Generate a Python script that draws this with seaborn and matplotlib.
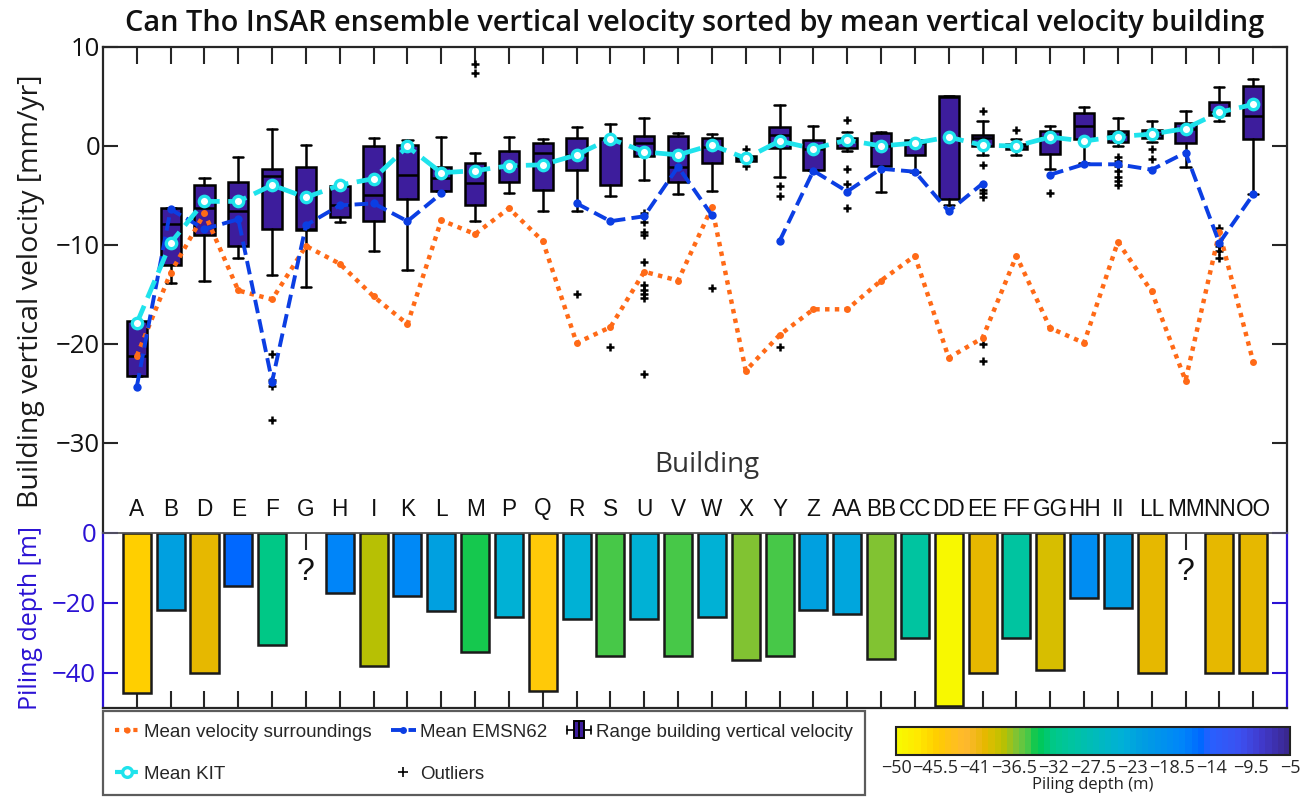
import numpy as np
import pandas as pd
import matplotlib
matplotlib.use("Agg")
import matplotlib.pyplot as plt
import seaborn as sns
from matplotlib.colors import LinearSegmentedColormap, Normalize
from matplotlib.cm import ScalarMappable
from matplotlib.lines import Line2D
from matplotlib.patches import Rectangle
from matplotlib.legend_handler import HandlerBase
from matplotlib.ticker import FuncFormatter

# ---------------- data ----------------
buildings = ["A", "B", "D", "E", "F", "G", "H", "I", "K", "L", "M", "P", "Q", "R",
             "S", "U", "V", "W", "X", "Y", "Z", "AA", "BB", "CC", "DD", "EE", "FF",
             "GG", "HH", "II", "LL", "MM", "NN", "OO"]

# box statistics of building vertical velocity [mm/yr]
whisker_low = [-23.2, -13.8, -13.6, -11.3, -13.0, -14.2, -7.7, -10.6, -12.5, -4.5,
               -7.6, -4.7, -6.6, -6.6, -5.1, -3.4, -4.9, -4.55, -1.5, -3.1,
               -2.45, -0.5, -4.6, -2.6, -6.0, -0.9, -0.95, -2.3, -1.7, 0.0,
               0.4, -2.1, 2.5, -4.9]
quart_1 = [-23.2, -12.0, -9.0, -10.1, -8.4, -8.5, -7.2, -7.6, -5.4, -4.5,
           -6.0, -3.6, -4.45, -2.43, -3.95, -1.0, -3.6, -1.75, -1.5, -0.23,
           -2.45, -0.23, -2.0, -0.95, -5.4, 0.0, -0.34, -0.78, 0.68, 0.4,
           0.85, 0.27, 3.17, 0.75]
medians = [-21.2, -7.9, -6.3, -6.6, -3.05, -8.4, -6.0, -5.0, -2.9, -3.2,
           -3.7, -2.0, -0.74, -0.9, 0.75, 0.34, -2.1, -0.07, -1.25, 1.1,
           -0.3, 0.5, 0.0, 0.3, 4.9, 0.78, 0.0, 0.95, 2.06, 1.2,
           1.2, 1.7, 3.4, 3.04]
quart_3 = [-17.7, -6.3, -3.95, -3.6, -2.3, -2.1, -4.05, 0.0, 0.1, -2.1,
           -1.7, -0.54, 0.27, 0.78, 0.78, 1.01, 1.0, 0.85, -0.98, 1.96,
           0.6, 0.78, 1.35, 0.6, 5.0, 1.1, 0.24, 1.5, 3.3, 1.5,
           1.6, 2.37, 4.45, 6.07]
whisker_high = [-17.7, -6.3, -3.2, -1.1, 1.7, 0.07, -4.05, 0.8, 0.6, 0.95,
                -0.7, 0.95, 0.68, 1.96, 2.27, 2.8, 1.3, 1.25, -0.98, 4.1,
                2.0, 1.45, 1.45, 0.6, 5.05, 2.5, 0.68, 2.0, 3.9, 2.8,
                2.5, 3.5, 6.0, 6.75]
outliers = {
    "F": [-21.0, -23.6, -24.2, -27.7],
    "M": [8.3, 7.4],
    "R": [-15.0],
    "S": [-20.3],
    "U": [-6.8, -7.7, -8.7, -9.0, -11.7, -14.0, -14.5, -15.0, -15.4, -23.0],
    "W": [-14.3],
    "X": [-0.35, -2.0],
    "Y": [-4.05, -5.1, -20.3],
    "AA": [2.6, -2.3, -3.8, -6.3],
    "EE": [3.5, -1.95, -4.4, -4.8, -5.2, -20.0, -21.7],
    "FF": [1.6],
    "GG": [-4.8],
    "II": [-1.1, -1.5, -2.0, -2.5, -3.1, -3.5, -3.9],
    "LL": [-0.35, -1.35],
    "NN": [-8.3, -10.1, -10.6, -11.3],
}

mean_surroundings = [-21.2, -12.8, -6.8, -14.6, -15.5, -10.1, -11.9, -15.2, -18.0, -7.5,
                     -8.9, -6.3, -9.6, -19.9, -18.3, -12.7, -13.6, -6.2, -22.7, -19.1,
                     -16.5, -16.5, -13.6, -11.1, -21.4, -19.4, -11.1, -18.4, -19.9, -9.7,
                     -14.7, -23.7, -8.7, -21.8]
mean_emsn62 = [-24.3, -6.4, -8.4, -7.4, -23.8, -8.0, -6.0, -5.8, -7.6, -4.8,
               np.nan, np.nan, np.nan, -5.8, -7.6, -7.1, -2.1, -7.0, np.nan, -9.6,
               -2.5, -4.6, -2.3, -2.6, -6.6, -3.8, np.nan, -2.9, -1.85, -1.85,
               -2.4, -0.67, -9.8, -4.9]
mean_kit = [-17.9, -9.8, -5.6, -5.6, -3.95, -5.2, -3.95, -3.3, -0.05, -2.7,
            -2.5, -2.0, -1.9, -0.9, 0.74, -0.6, -0.9, 0.1, -1.25, 0.5,
            -0.27, 0.6, 0.0, 0.3, 0.9, 0.07, 0.0, 0.9, 0.5, 0.95,
            1.2, 1.76, 3.4, 4.2]

piling_depth = [-45.7, -21.9, -40.0, -15.0, -32.0, np.nan, -17.0, -38.0, -18.0, -22.4,
                -34.0, -24.0, -45.0, -24.5, -35.0, -24.5, -35.0, -24.0, -36.2, -35.0,
                -22.0, -23.0, -36.0, -30.0, -49.3, -40.0, -30.0, -39.2, -18.6, -21.4,
                -40.0, np.nan, -40.0, -40.0]

depth_ticks = [-50, -45.5, -41, -36.5, -32, -27.5, -23, -18.5, -14, -9.5, -5]

# ---------------- styling ----------------
C_SURR = "#FF6A17"
C_EMSN = "#0B3EE3"
C_KIT = "#1FE3EC"
C_BOX = "#3D1D9C"
C_AXIS = "#262626"
C_PILE = "#2B12D4"

depth_cmap = LinearSegmentedColormap.from_list("piling", [
    (0.000, "#F8F800"), (0.050, "#FFE800"), (0.100, "#FFCC00"), (0.170, "#FFB830"),
    (0.200, "#F0B818"), (0.222, "#E6B800"), (0.245, "#D0C000"), (0.267, "#BCC000"),
    (0.307, "#78C43A"), (0.333, "#48C848"), (0.356, "#00C850"), (0.400, "#00C88A"),
    (0.444, "#00C4A0"), (0.500, "#00BCB8"), (0.578, "#00B0D8"), (0.620, "#00A0E0"),
    (0.733, "#0084FA"), (0.778, "#0068FF"), (0.800, "#2860FF"), (0.880, "#3C50F0"),
    (0.940, "#4038C8"), (1.000, "#3A2890")], N=64)
depth_norm = Normalize(vmin=-50, vmax=-5)

sns.set_theme(style="white")
plt.rcParams["font.family"] = ["Open Sans", "DejaVu Sans"]
plt.rcParams["axes.unicode_minus"] = True

W, H = 1312, 800
fig = plt.figure(figsize=(W / 100, H / 100), dpi=100)


def fbox(x0, y0, x1, y1):
    return [x0 / W, 1 - y1 / H, (x1 - x0) / W, (y1 - y0) / H]


ax_top = fig.add_axes(fbox(103, 47, 1287, 533))
ax_bot = fig.add_axes(fbox(103, 533, 1287, 708))
cax = fig.add_axes(fbox(896, 727, 1290, 755))

n = len(buildings)
pos = np.arange(n)

# ---------------- velocity boxes ----------------
stats = []
for i, b in enumerate(buildings):
    stats.append(dict(whislo=whisker_low[i], q1=quart_1[i], med=medians[i],
                      q3=quart_3[i], whishi=whisker_high[i],
                      fliers=outliers.get(b, [])))
ax_top.bxp(stats, positions=pos, widths=0.6, capwidths=0.3, patch_artist=True,
           boxprops=dict(facecolor=C_BOX, edgecolor="black", linewidth=1.8),
           medianprops=dict(color="black", linewidth=1.8),
           whiskerprops=dict(color="black", linewidth=1.8, linestyle="-"),
           capprops=dict(color="black", linewidth=1.8),
           flierprops=dict(marker="+", markersize=6, markeredgewidth=1.8,
                           markeredgecolor="black", linestyle="none"),
           zorder=2)

lines = pd.DataFrame({"pos": pos, "surr": mean_surroundings,
                      "emsn": mean_emsn62, "kit": mean_kit})

sns.lineplot(data=lines, x="pos", y="surr", ax=ax_top, color=C_SURR,
             linestyle=(0, (1, 1.2)), linewidth=3.2, marker="o", markersize=5,
             markeredgewidth=0, zorder=3, legend=False)

emsn = lines.dropna(subset=["emsn"]).copy()
emsn["run"] = lines["emsn"].isna().cumsum()[emsn.index]
sns.lineplot(data=emsn, x="pos", y="emsn", units="run", estimator=None, ax=ax_top,
             color=C_EMSN, linestyle=(0, (3.5, 1.6)), linewidth=2.8, marker="o",
             markersize=6, markeredgewidth=0, zorder=4, legend=False)

sns.lineplot(data=lines, x="pos", y="kit", ax=ax_top, color=C_KIT,
             linestyle=(0, (4, 1.8)), linewidth=3.4, marker="o", markersize=7.5,
             markerfacecolor="white", markeredgecolor=C_KIT, markeredgewidth=2.4,
             zorder=5, legend=False)

ax_top.set_xlim(-1, n)
ax_top.set_ylim(-39.1, 10)
ax_top.set_xticks(pos)
ax_top.set_yticks([-30, -20, -10, 0, 10])
ax_top.set_xlabel("")
ax_top.set_ylabel("")
ax_top.tick_params(axis="x", top=True, bottom=False, labelbottom=False,
                   labeltop=False, direction="in", length=12, width=1.5, color=C_AXIS)
ax_top.tick_params(axis="y", left=True, right=True, direction="in", length=11,
                   width=1.5, color=C_AXIS, labelsize=18.5, pad=2, labelcolor="#111111")
for side in ("left", "right", "top"):
    ax_top.spines[side].set_color(C_AXIS)
    ax_top.spines[side].set_linewidth(1.6)
ax_top.spines["bottom"].set_visible(False)

# ---------------- piling depth bars ----------------
piles = pd.DataFrame({"building": buildings, "depth": piling_depth}).dropna()
palette = {b: depth_cmap(depth_norm(d)) for b, d in zip(piles["building"], piles["depth"])}
sns.barplot(data=piles, x="building", y="depth", hue="building", order=buildings,
            palette=palette, saturation=1, dodge=False, width=0.83, errorbar=None,
            edgecolor="#1a1a1a", linewidth=1.8, legend=False, ax=ax_bot)
for i, d in enumerate(piling_depth):
    if np.isnan(d):
        ax_bot.text(i, -11, "?", ha="center", va="center", fontsize=23,
                    family=["Liberation Sans", "DejaVu Sans"], color="#111111")

ax_bot.set_xlim(-1, n)
ax_bot.set_ylim(-50, 0)
ax_bot.set_yticks([-40, -20, 0])
ax_bot.set_xlabel("")
ax_bot.set_ylabel("")
ax_bot.tick_params(axis="x", top=True, bottom=True, labeltop=True, labelbottom=False,
                   direction="in", length=12, width=1.5, color=C_AXIS, pad=9,
                   labelsize=16.3, labelcolor="#111111")
ax_bot.tick_params(axis="y", left=True, right=True, direction="in", length=11,
                   width=1.5, colors=C_PILE, labelsize=18.5, pad=5)
for lbl in ax_bot.get_xticklabels():
    lbl.set_fontfamily(["Liberation Sans", "DejaVu Sans"])
for side in ("left", "right"):
    ax_bot.spines[side].set_color(C_PILE)
    ax_bot.spines[side].set_linewidth(1.6)
ax_bot.spines["top"].set_color("#555555")
ax_bot.spines["top"].set_linewidth(1.3)
ax_bot.spines["bottom"].set_color(C_AXIS)
ax_bot.spines["bottom"].set_linewidth(1.6)

# ---------------- texts ----------------
fig.text(695 / W, 1 - 24 / H,
         "Can Tho InSAR ensemble vertical velocity sorted by mean vertical velocity building",
         ha="center", va="center", fontsize=20.8, fontweight="semibold", color="#111111")
fig.text(31 / W, 1 - 291 / H, "Building vertical velocity [mm/yr]", rotation=90,
         ha="center", va="center", fontsize=20.5, color="#1a1a1a")
fig.text(31 / W, 1 - 618 / H, "Piling depth [m]", rotation=90,
         ha="center", va="center", fontsize=18, color=C_PILE)
fig.text(707 / W, 1 - 465 / H, "Building", ha="center", va="center",
         fontsize=20, color="#333333")

# ---------------- legend ----------------
class BoxHandler(HandlerBase):
    def create_artists(self, legend, orig_handle, xdescent, ydescent, width,
                       height, fontsize, trans):
        x0 = -xdescent
        cy = -ydescent + height / 2
        b0, b1 = x0 + width * 0.28, x0 + width * 0.72
        bh = height * 1.3
        arts = [Line2D([x0, x0 + width], [cy, cy], color="black", lw=1.2, transform=trans)]
        for xc in (x0, x0 + width):
            arts.append(Line2D([xc, xc], [cy - height * 0.3, cy + height * 0.3],
                               color="black", lw=1.2, transform=trans))
        arts.append(Rectangle((b0, cy - bh / 2), b1 - b0, bh, facecolor=C_BOX,
                              edgecolor="black", lw=1.4, transform=trans))
        arts.append(Line2D([(b0 + b1) / 2] * 2, [cy - bh / 2, cy + bh / 2],
                           color="black", lw=1.4, transform=trans))
        return arts


h_surr = Line2D([], [], color=C_SURR, linestyle=(0, (1, 1.2)), lw=3, marker="o",
                markersize=4.5, markeredgewidth=0)
h_kit = Line2D([], [], color=C_KIT, linestyle=(0, (2, 1.5)), lw=3, marker="o",
               markersize=7, markerfacecolor="white", markeredgewidth=2.4)
h_emsn = Line2D([], [], color=C_EMSN, linestyle=(0, (3, 1.5)), lw=2.8, marker="o",
                markersize=5, markeredgewidth=0)
h_out = Line2D([], [], color="black", linestyle="none", marker="+", markersize=7,
               markeredgewidth=1.2)
h_box = Rectangle((0, 0), 1, 1)

leg = fig.legend([h_surr, h_kit, h_emsn, h_out, h_box],
                 ["Mean velocity surroundings", "Mean KIT", "Mean EMSN62", "Outliers",
                  "Range building vertical velocity"],
                 loc="upper left", bbox_to_anchor=(103 / W, 1 - 712 / H, 762 / W, 0.001),
                 mode="expand", ncol=3, frameon=True, fancybox=False,
                 edgecolor="#333333", handlelength=1.3, handletextpad=0.25,
                 borderaxespad=0, borderpad=0.65, labelspacing=1.35, columnspacing=0.3,
                 prop={"family": ["Liberation Sans", "DejaVu Sans"], "size": 13.5},
                 handler_map={h_box: BoxHandler()})
leg.get_frame().set_linewidth(1.6)

# ---------------- colorbar ----------------
sm = ScalarMappable(norm=depth_norm, cmap=depth_cmap)
cb = fig.colorbar(sm, cax=cax, orientation="horizontal", ticks=depth_ticks)
cb.ax.xaxis.set_major_formatter(FuncFormatter(lambda v, p: f"{v:g}".replace("-", "\u2212")))
cb.ax.tick_params(direction="in", length=6, width=1.3, color="#222222",
                  labelsize=13, pad=3)
cb.outline.set_linewidth(1.5)
cb.outline.set_edgecolor("#222222")
cb.set_label("Piling depth (m)", fontsize=12, labelpad=0, color="#222222")

fig.savefig("out.png", dpi=100)
